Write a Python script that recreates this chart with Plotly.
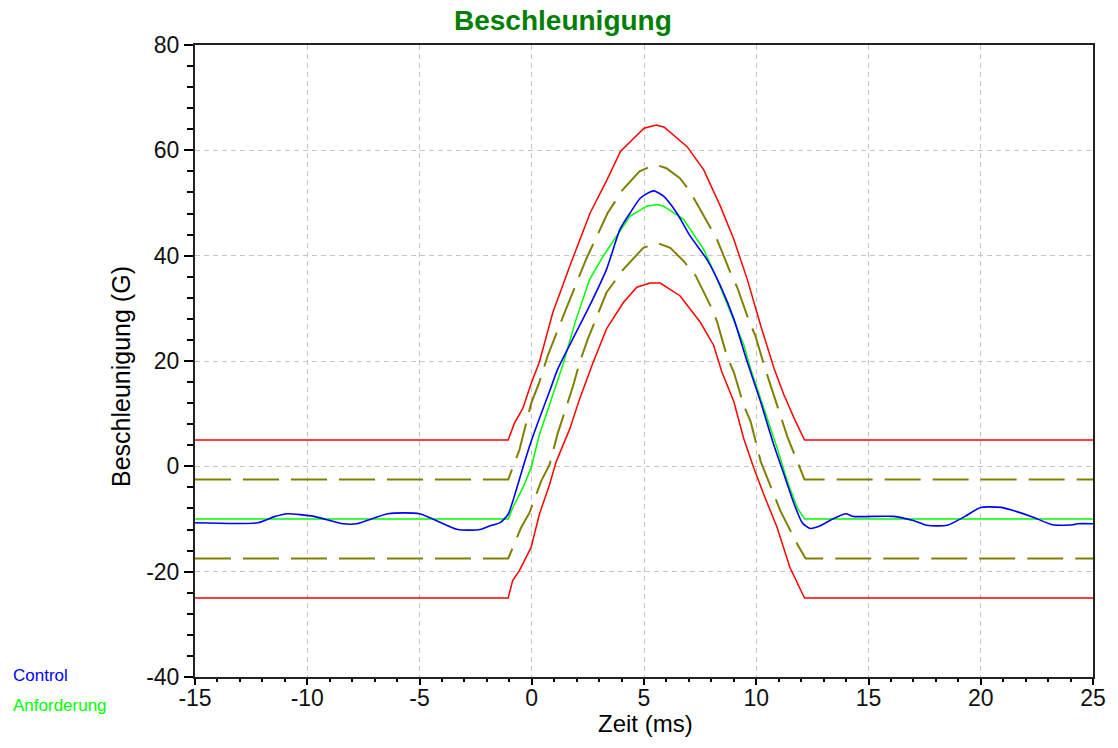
import plotly.graph_objects as go

# ---- data ----
upper_red_x = [-15, -1.05, -0.77, -0.4, -0.03, 0.34, 0.94, 1.7, 2.6, 3.35, 3.95, 5.0, 5.55, 5.9, 6.92, 7.66, 8.4, 9.0, 9.6, 10.2, 10.8, 11.24, 11.69, 12.15, 25]
upper_red_y = [5, 5, 8.2, 11.0, 15.7, 19.8, 29.2, 38.1, 48.1, 54.4, 59.8, 64.2, 64.8, 64.4, 60.7, 56.3, 49.4, 43.1, 35.5, 26.7, 18.5, 13.5, 9.1, 5, 5]

lower_red_x = [-15, -1.05, -0.85, -0.55, -0.03, 0.34, 0.79, 1.09, 1.7, 2.14, 2.74, 3.33, 4.08, 4.68, 5.27, 5.72, 6.6, 7.5, 8.1, 8.47, 9.0, 9.44, 9.89, 10.33, 10.93, 11.5, 12.15, 25]
lower_red_y = [-25, -25, -21.7, -19.8, -15.4, -9.1, -3.5, 0.9, 7.2, 12.9, 19.8, 26.1, 31.1, 34.0, 34.8, 34.8, 32.4, 27.4, 23.0, 17.9, 12.3, 5.3, -0.3, -5.3, -11.6, -19.2, -25, -25]

upper_dash_x = [-15, -1.05, -0.55, -0.03, 0.34, 0.71, 1.53, 2.42, 3.38, 4.05, 4.8, 5.5, 6.0, 6.6, 7.05, 7.87, 8.25, 8.85, 9.15, 9.67, 9.96, 10.4, 10.93, 11.38, 12.15, 25]
upper_dash_y = [-2.5, -2.5, 3.1, 11.9, 16.0, 21.0, 29.9, 39.3, 48.1, 52.5, 56.0, 57.3, 56.6, 54.7, 52.2, 45.9, 43.1, 36.8, 34.0, 27.7, 24.8, 18.5, 11.6, 5.7, -2.5, -2.5]

lower_dash_x = [-15, -1.05, -0.47, -0.1, 0.42, 0.79, 1.16, 1.83, 2.14, 2.5, 3.33, 4.08, 4.97, 5.6, 6.17, 6.76, 7.3, 8.03, 8.26, 8.7, 9.0, 9.44, 9.75, 10.2, 10.78, 11.08, 11.83, 12.2, 25]
lower_dash_y = [-17.5, -17.5, -11.6, -8.8, -2.8, 0.3, 6.3, 15.1, 19.8, 24.2, 33.0, 37.4, 41.5, 42.4, 41.5, 39.0, 36.2, 29.9, 27.4, 20.8, 17.9, 11.6, 8.5, 0.9, -5.3, -8.5, -14.8, -17.5, -17.5]

demand_x = [-15, -1.05, -0.85, -0.4, -0.03, 0.34, 0.79, 1.38, 1.98, 2.58, 3.18, 3.78, 4.38, 5.12, 5.6, 5.87, 6.76, 7.66, 8.26, 8.86, 9.45, 9.75, 10.33, 10.93, 11.38, 11.83, 12.15, 25]
demand_y = [-10, -10, -7.9, -4.1, -0.3, 6.0, 11.7, 19.2, 28.0, 35.5, 39.9, 43.6, 47.5, 49.4, 49.7, 49.4, 46.9, 41.2, 35.5, 29.2, 23.0, 18.5, 11.0, 3.5, -2.8, -7.9, -10, -10]

control_x = [-15, -12.2, -11.5, -10.9, -9.7, -8.4, -7.8, -6.4, -5.0, -3.3, -2.3, -1.86, -1.41, -1.05, -0.75, -0.4, -0.03, 0.34, 0.79, 1.16, 1.83, 2.58, 3.33, 3.93, 4.38, 4.83, 5.27, 5.45, 5.87, 6.46, 7.06, 7.8, 8.4, 9.0, 9.6, 10.19, 10.78, 11.24, 11.69, 12.05, 12.4, 12.85, 13.4, 14.0, 14.3, 16.1, 17.0, 17.6, 18.5, 19.3, 20.0, 20.9, 21.6, 22.3, 23.2, 24.1, 24.3, 25]
control_y = [-10.7, -10.7, -9.6, -9.0, -9.5, -10.9, -10.9, -9.0, -9.0, -12.0, -12.0, -11.3, -10.7, -9.1, -5.3, -0.3, 4.7, 9.1, 14.2, 18.5, 24.2, 30.5, 37.4, 45.0, 48.1, 50.9, 52.1, 52.3, 51.3, 48.1, 43.7, 39.3, 34.3, 28.0, 19.8, 12.3, 4.1, -1.6, -7.2, -10.7, -11.8, -11.3, -10.0, -9.0, -9.5, -9.5, -10.3, -11.2, -11.2, -9.5, -7.8, -7.8, -8.6, -9.6, -11.1, -11.1, -10.9, -10.9]

x_ticks = [-15, -10, -5, 0, 5, 10, 15, 20, 25]
x_tick_labels = ["-15", "-10", "-5", "0", "5", "10", "15", "20", "25"]
y_ticks = [-40, -20, 0, 20, 40, 60, 80]
y_tick_labels = ["-40", "-20", "0", "20", "40", "60", "80"]

title_text = "Beschleunigung"
x_title = "Zeit (ms)"
y_title = "Beschleunigung (G)"
legend_names = ["Control", "Anforderung"]

FONT = "Liberation Sans, Arial, sans-serif"
RED = "#ff0000"
OLIVE = "#808000"
GREEN = "#00ff00"
BLUE = "#0000ff"

fig = go.Figure()
for xs, ys in [(upper_red_x, upper_red_y), (lower_red_x, lower_red_y)]:
    fig.add_trace(go.Scatter(x=xs, y=ys, mode="lines", line=dict(color=RED, width=1.5),
                             showlegend=False, hoverinfo="skip"))
for xs, ys in [(upper_dash_x, upper_dash_y), (lower_dash_x, lower_dash_y)]:
    fig.add_trace(go.Scatter(x=xs, y=ys, mode="lines",
                             line=dict(color=OLIVE, width=2, dash="36px,12px"),
                             showlegend=False, hoverinfo="skip"))
fig.add_trace(go.Scatter(x=demand_x, y=demand_y, mode="lines", name=legend_names[1],
                         line=dict(color=GREEN, width=1.5), showlegend=False))
fig.add_trace(go.Scatter(x=control_x, y=control_y, mode="lines", name=legend_names[0],
                         line=dict(color=BLUE, width=1.6, shape="spline", smoothing=0.6),
                         showlegend=False))

axis_common = dict(
    showline=True, linecolor="#222222", linewidth=2, mirror=True,
    showgrid=True, gridcolor="#c4c4c4", gridwidth=1, griddash="5px,4px",
    zeroline=False, ticks="outside", tickcolor="#000000", tickwidth=1.5,
    tickfont=dict(family=FONT, size=23, color="#111111"),
    automargin=False,
)

fig.update_xaxes(range=[-15, 25], tickvals=x_ticks, ticktext=x_tick_labels, ticklen=6,
                 ticklabelstandoff=-7,
                 minor=dict(dtick=1, ticklen=3, ticks="outside", tickcolor="#000000", showgrid=False),
                 **axis_common)
fig.update_yaxes(range=[-40, 80], tickvals=y_ticks, ticktext=y_tick_labels, ticklen=9,
                 minor=dict(dtick=4, ticklen=6, ticks="outside", tickcolor="#000000", showgrid=False),
                 **axis_common)

annotations = [
    dict(text=f"<b>{title_text}</b>", xref="paper", yref="paper", x=(563 - 195) / 898, y=(677 - 20) / 632,
         xanchor="center", yanchor="middle", showarrow=False,
         font=dict(family=FONT, size=28, color="#008000")),
    dict(text=x_title, xref="paper", yref="paper", x=(645 - 195) / 898, y=(677 - 723) / 632,
         xanchor="center", yanchor="middle", showarrow=False,
         font=dict(family=FONT, size=24, color="#000000")),
    dict(text=y_title, xref="paper", yref="paper", x=(121 - 195) / 898, y=(677 - 377) / 632,
         xanchor="center", yanchor="middle", textangle=-90, showarrow=False,
         font=dict(family=FONT, size=25, color="#000000")),
    dict(text=legend_names[0], xref="paper", yref="paper", x=(11 - 195) / 898, y=(677 - 675) / 632,
         xanchor="left", yanchor="middle", showarrow=False,
         font=dict(family=FONT, size=17, color=BLUE)),
    dict(text=legend_names[1], xref="paper", yref="paper", x=(11 - 195) / 898, y=(677 - 705) / 632,
         xanchor="left", yanchor="middle", showarrow=False,
         font=dict(family=FONT, size=17, color=GREEN)),
]

fig.update_layout(
    width=1118, height=748,
    margin=dict(l=195, r=25, t=45, b=71, autoexpand=False),
    paper_bgcolor="#ffffff", plot_bgcolor="#ffffff",
    annotations=annotations,
    showlegend=False,
)

# remove the default 8px page margin so the figure fills the window exactly
fig.write_html("out.html", config={"displayModeBar": False},
               post_script="document.body.style.margin='0';")
